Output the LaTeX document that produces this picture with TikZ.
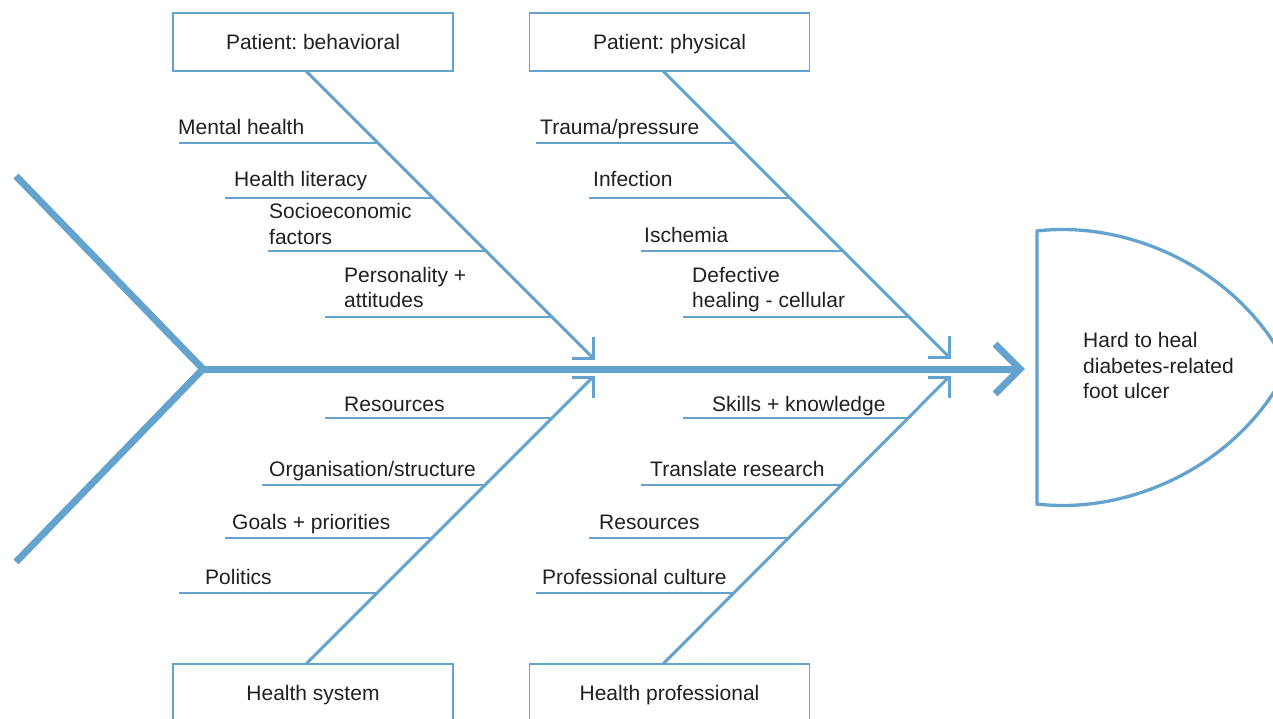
\documentclass[tikz,border=0pt]{standalone}
\usepackage{fontspec}
\setmainfont{Liberation Sans}
\usetikzlibrary{calc}
\definecolor{fb}{RGB}{99,163,206}
\definecolor{tx}{RGB}{35,31,32}
\frenchspacing
\begin{document}
\begin{tikzpicture}[x=1pt,y=-1pt,
  lbl/.style={anchor=base west, inner sep=0pt, text=tx, font=\fontsize{21}{25.5}\selectfont, align=left},
  catbox/.style={draw=fb, line width=1.8pt, minimum width=280pt, minimum height=58pt, inner sep=0pt, text height=15.2pt, text depth=0pt, text=tx, font=\fontsize{21}{25.5}\selectfont},
  bone/.style={draw=fb, line width=3pt},
  barb/.style={draw=fb, line width=3pt, line join=miter},
  twig/.style={draw=fb, line width=1.8pt},
  spine/.style={draw=fb, line width=7pt, line join=miter},
  headshape/.style={draw=fb, line width=3.3pt, line join=miter}]
\useasboundingbox (0,0) rectangle (1273,719);
\clip (0,0) rectangle (1273,719);

% category boxes
\node[catbox] (pb) at (313,42) {Patient: behavioral};
\node[catbox] (pp) at (669.5,42) {Patient: physical};
\node[catbox] (hs) at (313,693) {Health system};
\node[catbox] (hp) at (669.5,693) {Health professional};

% bone ends
\coordinate (pbs) at (306,71);
\coordinate (pps) at (663,71);
\coordinate (hss) at (306,664);
\coordinate (hps) at (663,664);
\coordinate (tA) at (593,358);
\coordinate (tB) at (949,357);
\coordinate (tC) at (593,377);
\coordinate (tD) at (949,377);

% spine and tail
\coordinate (tailtop) at (16,176);
\coordinate (tailjoin) at (203,369);
\coordinate (tailbot) at (16,562);
\coordinate (spineend) at (1020,369);
\coordinate (chevtop) at (995,344);
\coordinate (chevbot) at (995,394);
\draw[spine] (tailtop) -- (tailjoin) -- (tailbot);
\draw[spine] (tailjoin) -- (spineend);
\draw[spine] (chevtop) -- (spineend) -- (chevbot);

% head
\draw[headshape] (1037,504) -- (1037,231) .. controls (1130,220) and (1240,270) .. (1288,367.5) .. controls (1240,465) and (1130,515) .. (1037,504) -- cycle;
\node[lbl] (head) at (1083,398.5) {Hard to heal\\diabetes-related\\foot ulcer};

% bones
\draw[bone] (pbs) -- (tA);
\draw[bone] (pps) -- (tB);
\draw[bone] (hss) -- (tC);
\draw[bone] (hps) -- (tD);
\draw[barb] ($(tA)+(0,-21)$) -- (tA) -- ($(tA)+(-21,0)$);
\draw[barb] ($(tB)+(0,-21)$) -- (tB) -- ($(tB)+(-21,0)$);
\draw[barb] ($(tC)+(0,21)$) -- (tC) -- ($(tC)+(-21,0)$);
\draw[barb] ($(tD)+(0,21)$) -- (tD) -- ($(tD)+(-21,0)$);

% Patient: behavioral
\coordinate (a1s) at (179,143); \coordinate (a1e) at (378,143);
\coordinate (a2s) at (225,198); \coordinate (a2e) at (433,198);
\coordinate (a3s) at (268,251); \coordinate (a3e) at (486,251);
\coordinate (a4s) at (325,317); \coordinate (a4e) at (552,317);
\draw[twig] (a1s) -- (a1e);
\draw[twig] (a2s) -- (a2e);
\draw[twig] (a3s) -- (a3e);
\draw[twig] (a4s) -- (a4e);
\node[lbl] (la1) at (178,135) {Mental health};
\node[lbl] (la2) at (234,187) {Health literacy};
\node[lbl] (la3) at (269,244) {Socioeconomic\\factors};
\node[lbl] (la4) at (344,307.5) {Personality +\\attitudes};

% Patient: physical
\coordinate (b1s) at (536,143); \coordinate (b1e) at (735,143);
\coordinate (b2s) at (589,198); \coordinate (b2e) at (790,198);
\coordinate (b3s) at (641,251); \coordinate (b3e) at (843,251);
\coordinate (b4s) at (683,317); \coordinate (b4e) at (909,317);
\draw[twig] (b1s) -- (b1e);
\draw[twig] (b2s) -- (b2e);
\draw[twig] (b3s) -- (b3e);
\draw[twig] (b4s) -- (b4e);
\node[lbl] (lb1) at (540,135) {Trauma/pressure};
\node[lbl] (lb2) at (593,187) {Infection};
\node[lbl] (lb3) at (644,242.5) {Ischemia};
\node[lbl] (lb4) at (692,307.5) {Defective\\healing - cellular};

% Health system
\coordinate (c1s) at (325,418); \coordinate (c1e) at (552,418);
\coordinate (c2s) at (262,485); \coordinate (c2e) at (485,485);
\coordinate (c3s) at (225,538); \coordinate (c3e) at (432,538);
\coordinate (c4s) at (179,593); \coordinate (c4e) at (377,593);
\draw[twig] (c1s) -- (c1e);
\draw[twig] (c2s) -- (c2e);
\draw[twig] (c3s) -- (c3e);
\draw[twig] (c4s) -- (c4e);
\node[lbl] (lc1) at (344,411.5) {Resources};
\node[lbl] (lc2) at (269,476.5) {Organisation/structure};
\node[lbl] (lc3) at (232,529.5) {Goals + priorities};
\node[lbl] (lc4) at (205,584.5) {Politics};

% Health professional
\coordinate (d1s) at (683,418); \coordinate (d1e) at (908,418);
\coordinate (d2s) at (641,485); \coordinate (d2e) at (841,485);
\coordinate (d3s) at (589,538); \coordinate (d3e) at (789,538);
\coordinate (d4s) at (536,593); \coordinate (d4e) at (734,593);
\draw[twig] (d1s) -- (d1e);
\draw[twig] (d2s) -- (d2e);
\draw[twig] (d3s) -- (d3e);
\draw[twig] (d4s) -- (d4e);
\node[lbl] (ld1) at (712,411.5) {Skills + knowledge};
\node[lbl] (ld2) at (650,476.5) {Translate research};
\node[lbl] (ld3) at (599,529.5) {Resources};
\node[lbl] (ld4) at (542,584.5) {Professional culture};
\end{tikzpicture}
\end{document}
